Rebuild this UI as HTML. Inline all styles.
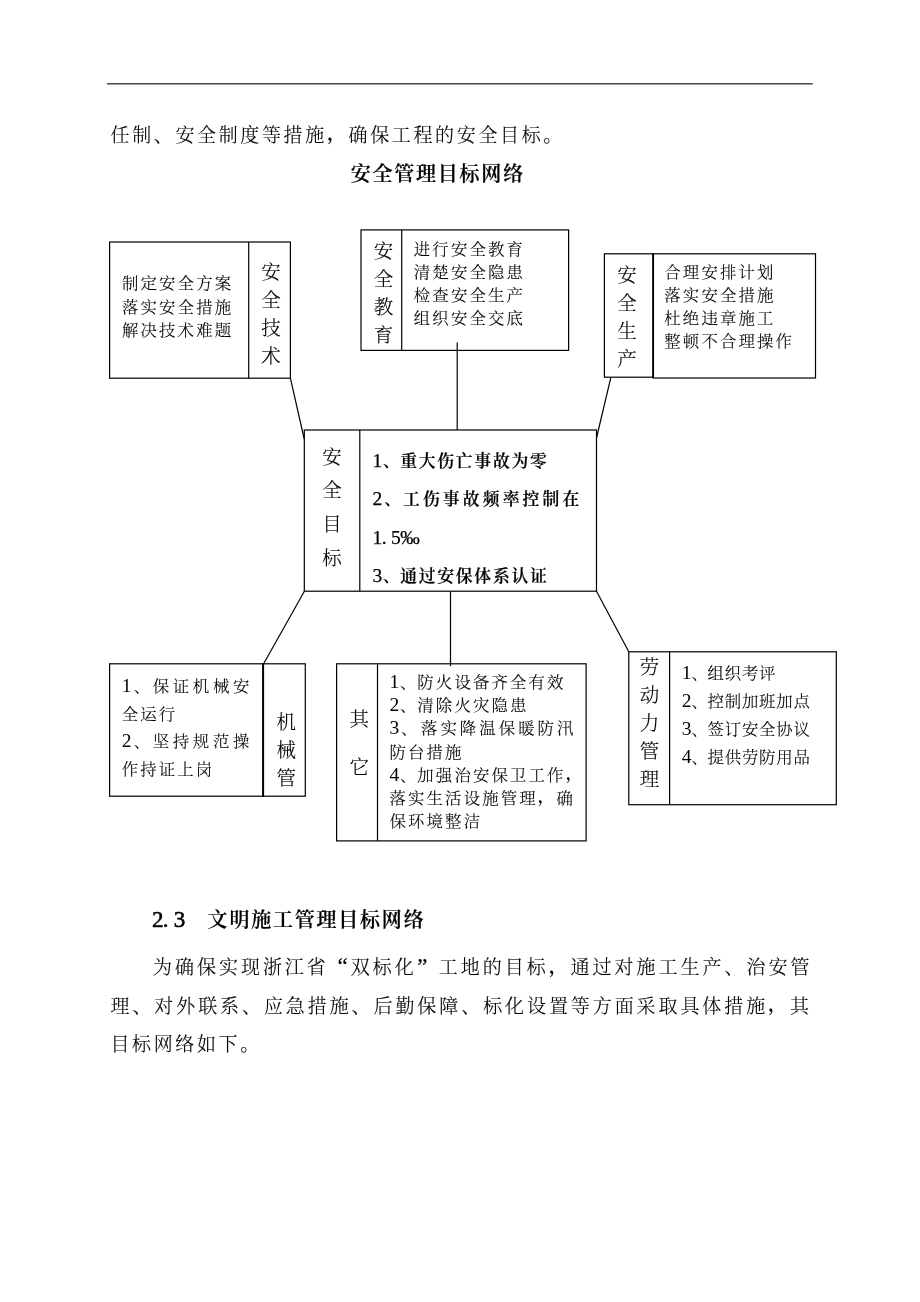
<!DOCTYPE html>
<html lang="zh-CN">
<head>
<meta charset="utf-8">
<title>安全管理目标网络</title>
<style>
html,body{margin:0;padding:0;background:#fff}
body{width:920px;height:1302px;position:relative;overflow:hidden;will-change:transform;font-family:"Liberation Serif","Noto Serif CJK SC",serif;color:#000}
.t{position:absolute;margin:0;padding:0;white-space:nowrap;font-weight:300;color:#000;-webkit-text-stroke:0.12px #000}
.ln{display:block;position:relative}
.v{width:19.5px;font-size:19.5px;white-space:normal;word-break:break-all;text-align:center;letter-spacing:0}
.b{font-weight:600;-webkit-text-stroke:0.22px #000}
.d{font-size:19.5px;line-height:0;letter-spacing:0;-webkit-text-stroke:0}
.b .d{font-weight:400;-webkit-text-stroke:0.25px #000}
.h .d{font-size:23px;-webkit-text-stroke:0.55px #000}
.c{position:relative;left:1.3px}
.m{position:relative;top:-1.5px;font-weight:600}
.sp{letter-spacing:2.8px}
.q{display:inline-block;letter-spacing:0;font-size:23px;line-height:0;vertical-align:baseline}
.q.l{text-align:right;padding-right:3px}
.q.r{text-align:left;padding-left:0.5px}
svg{position:absolute;left:0;top:0}
svg rect,svg line{fill:none;stroke:#000;stroke-width:1.2}
svg .f{fill:#111;stroke:none}
</style>
</head>
<body>
<svg width="920" height="1302" viewBox="0 0 920 1302">
<rect class="f" x="107" y="83.25" width="705.7" height="1.15"/>
<rect x="109.6" y="242" width="180.8" height="136.2"/>
<line x1="248.7" y1="242" x2="248.7" y2="378.2"/>
<rect x="361" y="229.9" width="207.6" height="120.5"/>
<line x1="401.7" y1="229.9" x2="401.7" y2="350.4"/>
<rect x="604.4" y="253.8" width="48.6" height="123.4"/>
<rect x="653" y="253.8" width="162.5" height="124.2"/>
<line x1="653.4" y1="253.8" x2="653.4" y2="377.6" style="stroke-width:1.3"/>
<rect x="304.3" y="430" width="292.2" height="161.2"/>
<line x1="359.8" y1="430" x2="359.8" y2="591.2"/>
<rect x="109.6" y="663.8" width="153.4" height="132.4"/>
<rect x="263" y="663.8" width="42.3" height="132.4"/>
<line x1="263.3" y1="663.8" x2="263.3" y2="796.2" style="stroke-width:1.6"/>
<rect x="336.6" y="663.8" width="249.5" height="177.1"/>
<line x1="377.5" y1="663.8" x2="377.5" y2="840.9"/>
<rect x="628.8" y="651.8" width="207.5" height="152.9"/>
<line x1="669.6" y1="651.8" x2="669.6" y2="804.7"/>
<line x1="290.4" y1="378.2" x2="304.2" y2="439"/>
<line x1="457.2" y1="342.4" x2="457.2" y2="430"/>
<line x1="610.8" y1="377.6" x2="596.6" y2="437.5"/>
<line x1="304.4" y1="591.2" x2="263.6" y2="663.8"/>
<line x1="450.5" y1="591.2" x2="450.5" y2="666.2"/>
<line x1="596.5" y1="591.2" x2="628.8" y2="651.8"/>
</svg>
<p class="t" style="left:110.5px;top:116.81px;font-size:19px;line-height:38.6px;letter-spacing:2.64px">任制、安全制度等措施<span class="m">，</span>确保工程的安全目标。</p>
<h1 class="t b" style="left:350.7px;top:154.9px;font-size:20px;line-height:38.6px;letter-spacing:1.78px">安全管理目标网络</h1>
<section class="diagram">
<div class="box">
<div class="t" style="left:122px;top:272.39px;font-size:16.4px;line-height:23.4px;letter-spacing:2.15px"><span class="ln">制定安全方案</span><span class="ln">落实安全措施</span><span class="ln">解决技术难题</span></div>
<div class="t v" style="left:261.35px;top:259.16px;line-height:28px">安全技术</div>
</div>
<div class="box">
<div class="t v" style="left:373.65px;top:237.86px;line-height:28px">安全教育</div>
<div class="t" style="left:413.8px;top:237.92px;font-size:16.4px;line-height:23.15px;letter-spacing:2.15px"><span class="ln">进行安全教育</span><span class="ln">清楚安全隐患</span><span class="ln">检查安全生产</span><span class="ln">组织安全交底</span></div>
</div>
<div class="box">
<div class="t v" style="left:617.35px;top:262.36px;line-height:28px">安全生产</div>
<div class="t" style="left:664.3px;top:261.27px;font-size:16.4px;line-height:23.05px;letter-spacing:2.15px"><span class="ln">合理安排计划</span><span class="ln">落实安全措施</span><span class="ln">杜绝违章施工</span><span class="ln">整顿不合理操作</span></div>
</div>
<div class="box">
<div class="t v" style="left:322.25px;top:440.66px;line-height:33.8px">安全目标</div>
<div class="t b" style="left:372.4px;top:442.98px;font-size:16.8px;line-height:38.5px;letter-spacing:1.75px"><span class="ln"><span class="d" style="letter-spacing:-0.47px">1</span><span class="c">、</span>重大伤亡事故为零</span><span class="ln" style="letter-spacing:3.15px"><span class="d" style="letter-spacing:0.92px">2</span><span class="c">、</span>工伤事故频率控制在</span><span class="ln"><span class="d" style="letter-spacing:-0.47px">1</span><span class="d" style="letter-spacing:4.4px">.</span><span class="d" style="letter-spacing:-0.47px">5</span><span class="d">‰</span></span><span class="ln"><span class="d" style="letter-spacing:-0.47px">3</span><span class="c">、</span>通过安保体系认证</span></div>
</div>
<div class="box">
<div class="t" style="left:121.7px;top:672.89px;font-size:16.4px;line-height:27.8px;letter-spacing:2.15px"><span class="ln" style="letter-spacing:3.7px"><span class="d" style="letter-spacing:1.08px">1</span><span class="c">、</span>保证机械安</span><span class="ln">全运行</span><span class="ln" style="letter-spacing:3.7px"><span class="d" style="letter-spacing:1.08px">2</span><span class="c">、</span>坚持规范操</span><span class="ln">作持证上岗</span></div>
<div class="t v" style="left:276.45px;top:709.01px;line-height:28.1px">机械管</div>
</div>
<div class="box">
<div class="t v" style="left:349.55px;top:696.18px;line-height:48.15px">其它</div>
<div class="t" style="left:389.5px;top:671.13px;font-size:16.4px;line-height:23.12px;letter-spacing:2.15px"><span class="ln"><span class="d" style="letter-spacing:-0.47px">1</span><span class="c">、</span>防火设备齐全有效</span><span class="ln"><span class="d" style="letter-spacing:-0.47px">2</span><span class="c">、</span>清除火灾隐患</span><span class="ln" style="letter-spacing:3.04px"><span class="d" style="letter-spacing:0.42px">3</span><span class="c">、</span><span style="margin-left:1.9px">落实降温保暖防汛</span></span><span class="ln">防台措施</span><span class="ln"><span class="d" style="letter-spacing:-0.47px">4</span><span class="c">、</span>加强治安保卫工作<span class="m">，</span></span><span class="ln">落实生活设施管理<span class="m">，</span>确</span><span class="ln">保环境整洁</span></div>
</div>
<div class="box">
<div class="t v" style="left:639.85px;top:654.26px;line-height:28px">劳动力管理</div>
<div class="t" style="left:681.7px;top:659.99px;font-size:16.4px;line-height:28px;letter-spacing:0.8px"><span class="ln"><span class="d" style="letter-spacing:-1.15px">1</span><span class="c">、</span>组织考评</span><span class="ln"><span class="d" style="letter-spacing:-1.15px">2</span><span class="c">、</span>控制加班加点</span><span class="ln"><span class="d" style="letter-spacing:-1.15px">3</span><span class="c">、</span>签订安全协议</span><span class="ln"><span class="d" style="letter-spacing:-1.15px">4</span><span class="c">、</span>提供劳防用品</span></div>
</div>
</section>
<h2 class="t b h" style="left:151.9px;top:900.8px;font-size:20px;line-height:38.6px;letter-spacing:1.78px"><span class="d" style="letter-spacing:-0.54px">2</span><span class="d" style="letter-spacing:5.21px">.</span><span class="d" style="letter-spacing:-0.54px">3</span><span class="sp">　</span>文明施工管理目标网络</h2>
<p class="t" style="left:110.4px;top:949.42px;font-size:19px;line-height:38.6px;letter-spacing:2.64px"><span class="ln" style="letter-spacing:2.98px;margin-left:42.6px">为确保实现浙江省<span class="q l" style="width:18.98px">“</span>双标化<span class="q r" style="width:21.48px">”</span>工地的目标<span class="m">，</span>通过对施工生产、治安管</span><span class="ln" style="letter-spacing:2.92px;margin-left:0.1px;top:-0.1px">理、对外联系、应急措施、后勤保障、标化设置等方面采取具体措施<span class="m">，</span>其</span><span class="ln" style="top:-0.45px">目标网络如下。</span></p>
</body>
</html>
